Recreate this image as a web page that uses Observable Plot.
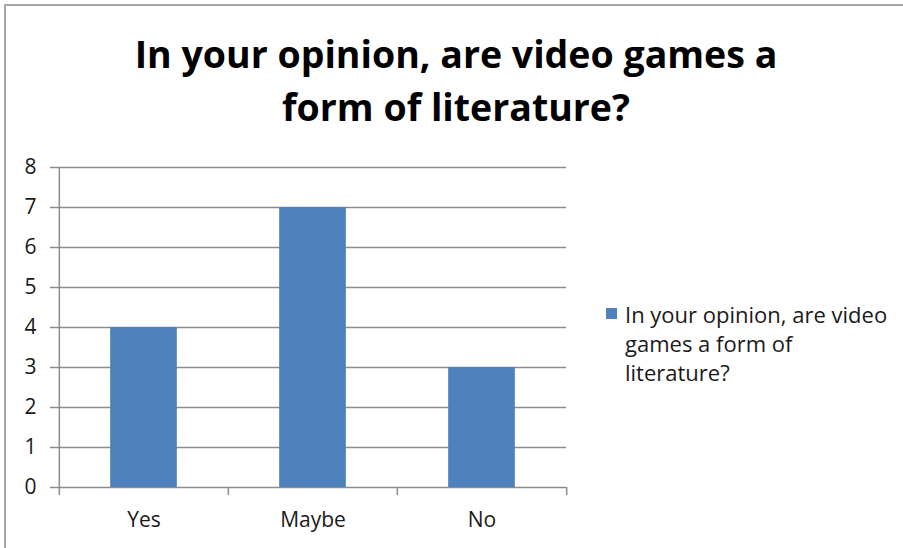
<!DOCTYPE html>
<html>
<head>
<meta charset="utf-8">
<script src="https://cdn.jsdelivr.net/npm/d3@7"></script>
<script src="https://cdn.jsdelivr.net/npm/@observablehq/plot@0.6"></script>
<style>
  html, body { margin: 0; padding: 0; background: #fff; }
  #frame { position: relative; width: 903px; height: 548px; overflow: hidden; font-family: "Open Sans", Lato, sans-serif; }
  #border { position: absolute; left: 4px; top: 4px; right: -10px; bottom: -10px; border-left: 2px solid #a6a6a6; border-top: 2px solid #a6a6a6; }
  #title { position: absolute; left: -4px; top: 27px; width: 920px; text-align: center; font-weight: bold; font-size: 37.5px; line-height: 53px; color: #000; }
  #chart { position: absolute; left: 0; top: 150px; }
  #legend { position: absolute; left: 606px; top: 300px; width: 297px; font-size: 22px; line-height: 29px; color: #1a1a1a; }
  #legend .sw { position: absolute; left: 0; top: 8px; width: 11px; height: 11px; background: #4f81bd; }
  #legend .txt { position: absolute; left: 19px; top: 0; width: 280px; white-space: nowrap; }
</style>
</head>
<body>
<div id="frame">
  <div id="border"></div>
  <div id="title"></div>
  <div id="chart"></div>
  <div id="legend"></div>
</div>
<script>
const titleLines = ["In your opinion, are video games a", "form of literature?"];
const legendLines = ["In your opinion, are video", "games a form of", "literature?"];
const categories = ["Yes", "Maybe", "No"];
const values = [4, 7, 3];
const yTicks = [0, 1, 2, 3, 4, 5, 6, 7, 8];
const barColor = "#4f81bd";

document.getElementById("title").innerHTML = titleLines.join("<br>");
document.getElementById("legend").innerHTML =
  '<span class="sw"></span><div class="txt">' + legendLines.join("<br>") + '</div>';

const data = categories.map((c, i) => ({category: c, value: values[i]}));

const W = 903, H = 398;
const mL = 58, mR = 337, mT = 17, mB = 61;
const step = (W - mL - mR) / categories.length;
const barW = 67;
const inset = (step - barW) / 2;
const grid = "#8c8c8c";

const chart = Plot.plot({
  width: W,
  height: H,
  marginLeft: mL,
  marginRight: mR,
  marginTop: mT,
  marginBottom: mB,
  style: {fontFamily: "'Open Sans', Lato, sans-serif", fontSize: "21px", color: "#1a1a1a", background: "transparent"},
  x: {domain: categories, padding: 0, label: null},
  y: {domain: [0, 8], label: null},
  marks: [
    Plot.ruleY(yTicks, {y: d => d, stroke: grid, strokeWidth: 1.5, insetLeft: -8}),
    Plot.barY(data, {x: "category", y: "value", fill: barColor, insetLeft: inset, insetRight: inset}),
    Plot.ruleX(categories, {x: d => d, dx: -step / 2, y1: 8, y2: 0, stroke: grid, strokeWidth: 1.5, insetBottom: -8, filter: (d, i) => i === 0}),
    Plot.ruleX(categories, {x: d => d, dx: -step / 2, y1: 0, y2: 0, stroke: grid, strokeWidth: 1.5, insetBottom: -8, filter: (d, i) => i > 0}),
    Plot.ruleX(categories, {x: d => d, dx: step / 2, y1: 0, y2: 0, stroke: grid, strokeWidth: 1.5, insetBottom: -8, filter: (d, i) => i === categories.length - 1}),
    Plot.axisX({tickSize: 0, tickPadding: 25, fontSize: 21, label: null}),
    Plot.axisY({ticks: yTicks, tickSize: 0, tickPadding: 22, fontSize: 21, label: null, tickFormat: d3.format("d")})
  ]
});
document.getElementById("chart").appendChild(chart);
</script>
</body>
</html>
